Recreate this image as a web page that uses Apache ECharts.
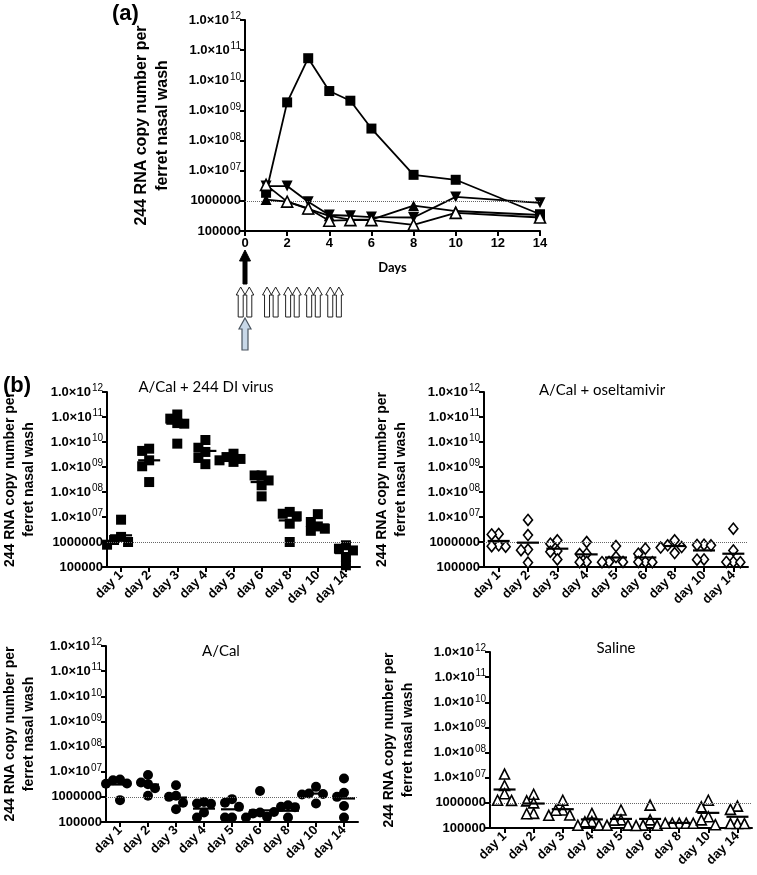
<!DOCTYPE html>
<html><head><meta charset="utf-8">
<script src="https://cdn.jsdelivr.net/npm/echarts@6/dist/echarts.min.js"></script>
<style>html,body{margin:0;padding:0;background:#fff}#c{width:757px;height:875px}</style>
</head><body><div id="c"></div><script>
// ---------- data ----------
const days = [1, 2, 3, 4, 5, 6, 8, 10, 14];
const dayLabels = ['day 1', 'day 2', 'day 3', 'day 4', 'day 5', 'day 6', 'day 8', 'day 10', 'day 14'];
const daysTicks = [0, 2, 4, 6, 8, 10, 12, 14];
const detectionLimit = 1e6;
const yName = '244 RNA copy number per\nferret nasal wash';
const titleA = '(a)';
const titleB = '(b)';
const panelTitles = ['A/Cal + 244 DI virus', 'A/Cal + oseltamivir', 'A/Cal', 'Saline'];
const xNameA = 'Days';
// dosing annotation days (panel a)
const infectDay = [0];
const doseDays = [0, 1.25, 2.25, 3.25, 4.25];

const diVirus = [
  [7.8e6, 1.6e6, 1.2e6, 1.0e6, 7.8e5],
  [5.4e9, 4.4e9, 1.85e9, 1.07e9, 2.5e8],
  [1.26e11, 8.6e10, 5.7e10, 5.4e10, 8.6e9],
  [1.2e10, 5.9e9, 4.0e9, 2.3e9, 1.3e9],
  [3.4e9, 2.5e9, 2.1e9, 1.85e9, 1.6e9],
  [4.6e8, 4.6e8, 2.9e8, 1.85e8, 6.7e7],
  [1.6e7, 1.35e7, 1.07e7, 5.4e6, 1.0e6],
  [1.3e7, 6.3e6, 4.2e6, 3.4e6, 2.8e6],
  [7.4e5, 5.4e5, 4.6e5, 2.5e5, 1.17e5]
];
const diMean = [1.85e6, 1.85e9, 5.4e10, 4.4e9, 2.1e9, 2.5e8, 7.3e6, 5.0e6, 3.6e5];

const oseltamivir = [
  [2.1e6, 2.0e6, 7.4e5, 6.8e5, 6.5e5],
  [7.6e6, 1.9e6, 5.0e5, 4.7e5, 1.5e5],
  [1.17e6, 8.6e5, 4.4e5, 4.1e5, 2.0e5],
  [1.0e6, 3.4e5, 3.3e5, 1.6e5, 1.55e5],
  [6.9e5, 2.5e5, 1.6e5, 1.6e5, 1.55e5],
  [5.4e5, 3.4e5, 1.6e5, 1.6e5, 1.55e5],
  [1.17e6, 7.4e5, 6.3e5, 6.0e5, 3.6e5],
  [7.8e5, 7.6e5, 7.4e5, 2.0e5, 1.95e5],
  [3.4e6, 4.6e5, 1.6e5, 1.6e5, 1.55e5]
];
const oseltamivirMean = [1.1e6, 9.4e5, 5.4e5, 3.2e5, 2.4e5, 2.4e5, 6.9e5, 4.6e5, 3.4e5];

const aCal = [
  [4.9e6, 4.6e6, 3.4e6, 3.3e6, 7.4e5],
  [7.4e6, 3.7e6, 3.2e6, 2.2e6, 1.1e6],
  [2.9e6, 1.1e6, 1.0e6, 5.8e5, 3.2e5],
  [6.3e5, 5.4e5, 5.3e5, 2.4e5, 1.5e5],
  [8.1e5, 5.8e5, 4.0e5, 1.5e5, 1.5e5],
  [1.7e6, 2.4e5, 2.2e5, 1.6e5, 1.5e5],
  [4.6e5, 4.0e5, 3.9e5, 2.5e5, 1.5e5],
  [2.5e6, 1.35e6, 1.3e6, 1.25e6, 5.4e5],
  [5.4e6, 1.45e6, 1.0e6, 4.3e5, 1.5e5]
];
const aCalMean = [3.1e6, 3.1e6, 9.4e5, 3.4e5, 3.2e5, 2.9e5, 2.8e5, 1.35e6, 8.6e5];

const saline = [
  [1.4e7, 4.9e6, 2.3e6, 1.27e6, 1.25e6],
  [2.2e6, 1.2e6, 1.0e6, 3.8e5, 3.7e5],
  [1.27e6, 5.2e5, 5.1e5, 3.3e5, 3.2e5],
  [3.8e5, 1.8e5, 1.75e5, 1.3e5, 1.28e5],
  [5.2e5, 2.1e5, 2.05e5, 1.3e5, 1.28e5],
  [8.1e5, 2.1e5, 1.3e5, 1.28e5, 1.25e5],
  [1.55e5, 1.55e5, 1.55e5, 1.55e5, 1.55e5],
  [1.27e6, 6.9e5, 2.8e5, 2.1e5, 1.35e5],
  [7.4e5, 5.5e5, 1.5e5, 1.5e5, 1.5e5]
];
const salineMean = [3.4e6, 9.4e5, 5.6e5, 2.2e5, 2.3e5, 2.3e5, 1.6e5, 4.0e5, 2.8e5];

// ---------- styles ----------
const AF = 'Liberation Sans, Arial, sans-serif';
const CF = 'Lato, Open Sans, sans-serif';

const panelsB = [
  {grid: 1, pts: diVirus, mean: diMean, symbol: 'rect', size: 10, open: false},
  {grid: 2, pts: oseltamivir, mean: oseltamivirMean, symbol: 'diamond', size: [9, 11], open: true},
  {grid: 3, pts: aCal, mean: aCalMean, symbol: 'circle', size: 10, open: false},
  {grid: 4, pts: saline, mean: salineMean, symbol: 'triangle', size: 10, open: true}
];

const grids = [
  {left: 245, top: 20, width: 295, height: 211},
  {left: 97, top: 392, width: 263, height: 175},
  {left: 484, top: 392, width: 264, height: 175},
  {left: 95, top: 646, width: 263, height: 176},
  {left: 490, top: 652, width: 262, height: 176}
];

function fmtY(v) {
  const e = Math.round(Math.log10(v));
  if (e >= 7) return '{m|1.0×10}{e|' + String(e).padStart(2, '0') + '}';
  return '{m|' + String(Math.round(Math.pow(10, e))) + '}';
}
function yAxis(g, fs, gap, nfs) {
  return {
    type: 'log', gridIndex: g, min: 1e5, max: 1e12, logBase: 10, splitNumber: 7,
    axisLine: {show: true, lineStyle: {color: '#000', width: 2}},
    axisTick: {show: true, length: 5, lineStyle: {color: '#000', width: 2}},
    splitLine: {show: false},
    axisLabel: {
      margin: 4, formatter: fmtY,
      rich: {
        m: {fontFamily: AF, fontWeight: 'bold', fontSize: fs, color: '#000', lineHeight: fs + 4},
        e: {fontFamily: AF, fontSize: Math.round(fs * 0.75), color: '#000', verticalAlign: 'top', lineHeight: fs + 4, padding: [0, 0, 5, 1]}
      }
    },
    name: yName, nameLocation: 'middle', nameRotate: 90, nameGap: gap,
    nameTextStyle: {fontFamily: AF, fontWeight: 'bold', fontSize: nfs, lineHeight: nfs + 5, color: '#000'}
  };
}

const dottedLine = {
  silent: true, symbol: 'none', label: {show: false},
  lineStyle: {type: 'dotted', color: '#666', width: 1},
  data: [{yAxis: detectionLimit}]
};

function symStyle(open) {
  return open ? {color: '#fff', borderColor: '#000', borderWidth: 1.6, opacity: 1} : {color: '#000', opacity: 1};
}

function buildOption(offsets, arrows) {
  const xAxes = [{
    type: 'value', gridIndex: 0, min: 0, max: 14, interval: 2,
    axisLine: {show: true, onZero: false, lineStyle: {color: '#000', width: 2}},
    axisTick: {show: true, length: 5, lineStyle: {color: '#000', width: 2}},
    splitLine: {show: false},
    axisLabel: {fontFamily: AF, fontWeight: 'bold', fontSize: 13, color: '#000', margin: 6,
      customValues: daysTicks},
    name: xNameA, nameLocation: 'middle', nameGap: 30,
    nameTextStyle: {fontFamily: CF, fontWeight: 'bold', fontSize: 13, color: '#000'}
  }];
  const yAxes = [yAxis(0, 13, 72, 16)];
  const gaps = [0, 68, 73, 67, 72];
  for (let g = 1; g <= 4; g++) {
    xAxes.push({
      type: 'category', gridIndex: g, data: dayLabels, boundaryGap: true,
      axisLine: {show: true, lineStyle: {color: '#000', width: 2}},
      axisTick: {show: true, alignWithLabel: true, length: 5, lineStyle: {color: '#000', width: 2}},
      axisLabel: {interval: 0, rotate: 45, fontFamily: AF, fontWeight: 'bold', fontSize: 13, color: '#000', margin: 6},
      splitLine: {show: false}
    });
    yAxes.push(yAxis(g, 13, gaps[g], 14));
  }

  const series = [];
  // panel (a): mean time courses
  const aSeries = [
    {mean: diMean, symbol: 'rect', size: 10, rot: 0, open: false},
    {mean: aCalMean, symbol: 'triangle', size: 11, rot: 180, open: false},
    {mean: oseltamivirMean, symbol: 'triangle', size: 11, rot: 0, open: false},
    {mean: salineMean, symbol: 'triangle', size: 11, rot: 0, open: true}
  ];
  aSeries.forEach((s, k) => {
    const ser = {
      type: 'line', xAxisIndex: 0, yAxisIndex: 0, z: 3 + k,
      data: days.map((d, i) => [d, s.mean[i]]),
      symbol: s.symbol, symbolSize: s.size, symbolRotate: s.rot, showSymbol: true,
      lineStyle: {color: '#000', width: 1.8},
      itemStyle: symStyle(s.open)
    };
    if (k === 0) ser.markLine = dottedLine;
    series.push(ser);
  });

  panelsB.forEach((p, pi) => {
    const data = [];
    p.pts.forEach((vals, i) => vals.forEach((v, j) => {
      data.push({value: [i, v], symbolOffset: [offsets ? offsets[pi][i][j] : 0, 0]});
    }));
    series.push({
      type: 'scatter', xAxisIndex: p.grid, yAxisIndex: p.grid, z: 4,
      data, symbol: p.symbol, symbolSize: p.size,
      itemStyle: symStyle(p.open)
    });
    series.push({
      type: 'scatter', xAxisIndex: p.grid, yAxisIndex: p.grid, z: 5,
      data: p.mean.map((m, i) => [i, m]), symbol: 'rect', symbolSize: [22, 2.2],
      itemStyle: {color: '#000', opacity: 1},
      markLine: dottedLine
    });
  });

  const txt = (t, x, y, font, align) => ({type: 'text', style: {text: t, x, y, font, fill: '#000', textAlign: align || 'center', textVerticalAlign: 'middle'}});
  const graphic = [
    txt(titleA, 112, 14, 'bold 22px ' + AF, 'left'),
    txt(titleB, 3, 386, 'bold 22px ' + AF, 'left'),
    txt(panelTitles[0], 206, 387, '15px ' + CF),
    txt(panelTitles[1], 602, 390, '15px ' + CF),
    txt(panelTitles[2], 221, 651, '15px ' + CF),
    txt(panelTitles[3], 616, 648, '15px ' + CF)
  ].concat(arrows || []);

  return {
    animation: false, backgroundColor: '#fff',
    grid: grids, xAxis: xAxes, yAxis: yAxes, series, graphic
  };
}

const chart = echarts.init(document.getElementById('c'));
chart.setOption(buildOption(null, null));

// greedy beeswarm spreading (points may overlap slightly), computed from pixel positions
function swarmOffsets() {
  return panelsB.map((p, pi) => {
    const sIdx = 4 + pi * 2;
    const sz = (Array.isArray(p.size) ? p.size[0] + 1 : p.size);
    const st = sz * 0.7;
    const cands = [0, -st, st, -2 * st, 2 * st, -0.5 * st, 0.5 * st, -1.5 * st, 1.5 * st];
    return p.pts.map((vals, i) => {
      const pts = vals.map((v, j) => ({j, y: chart.convertToPixel({seriesIndex: sIdx}, [i, v])[1]}));
      pts.sort((a, b) => a.y - b.y);
      const placed = [];
      const off = [];
      pts.forEach(pt => {
        let best = cands[0];
        for (const c of cands) {
          const hit = placed.some(q => Math.abs(q.x - c) < st - 0.01 && Math.abs(q.y - pt.y) < sz * 0.8);
          if (!hit) { best = c; break; }
        }
        placed.push({x: best, y: pt.y});
        off[pt.j] = best;
      });
      return off;
    });
  });
}

function arrowShape(cx, t, b, w, sw, hh) {
  return [[cx, t], [cx + w / 2, t + hh], [cx + sw / 2, t + hh], [cx + sw / 2, b],
          [cx - sw / 2, b], [cx - sw / 2, t + hh], [cx - w / 2, t + hh]];
}
function buildArrows() {
  const els = [];
  const px = d => chart.convertToPixel({xAxisIndex: 0}, d);
  infectDay.forEach(d => {
    els.push({type: 'polygon', shape: {points: arrowShape(px(d), 250, 284, 11, 4, 11)},
      style: {fill: '#000', stroke: '#000', lineWidth: 1}});
    els.push({type: 'polygon', shape: {points: arrowShape(px(d), 318, 350, 12, 6, 11)},
      style: {fill: '#c8d8e8', stroke: '#4a5560', lineWidth: 1.2}});
  });
  doseDays.forEach(d => {
    [-4.3, 4.3].forEach(o => {
      els.push({type: 'polygon', shape: {points: arrowShape(px(d) + o, 287, 317, 9, 5, 8)},
        style: {fill: '#fff', stroke: '#222', lineWidth: 1}});
    });
  });
  return els;
}

chart.setOption(buildOption(swarmOffsets(), buildArrows()), true);
</script></body></html>
